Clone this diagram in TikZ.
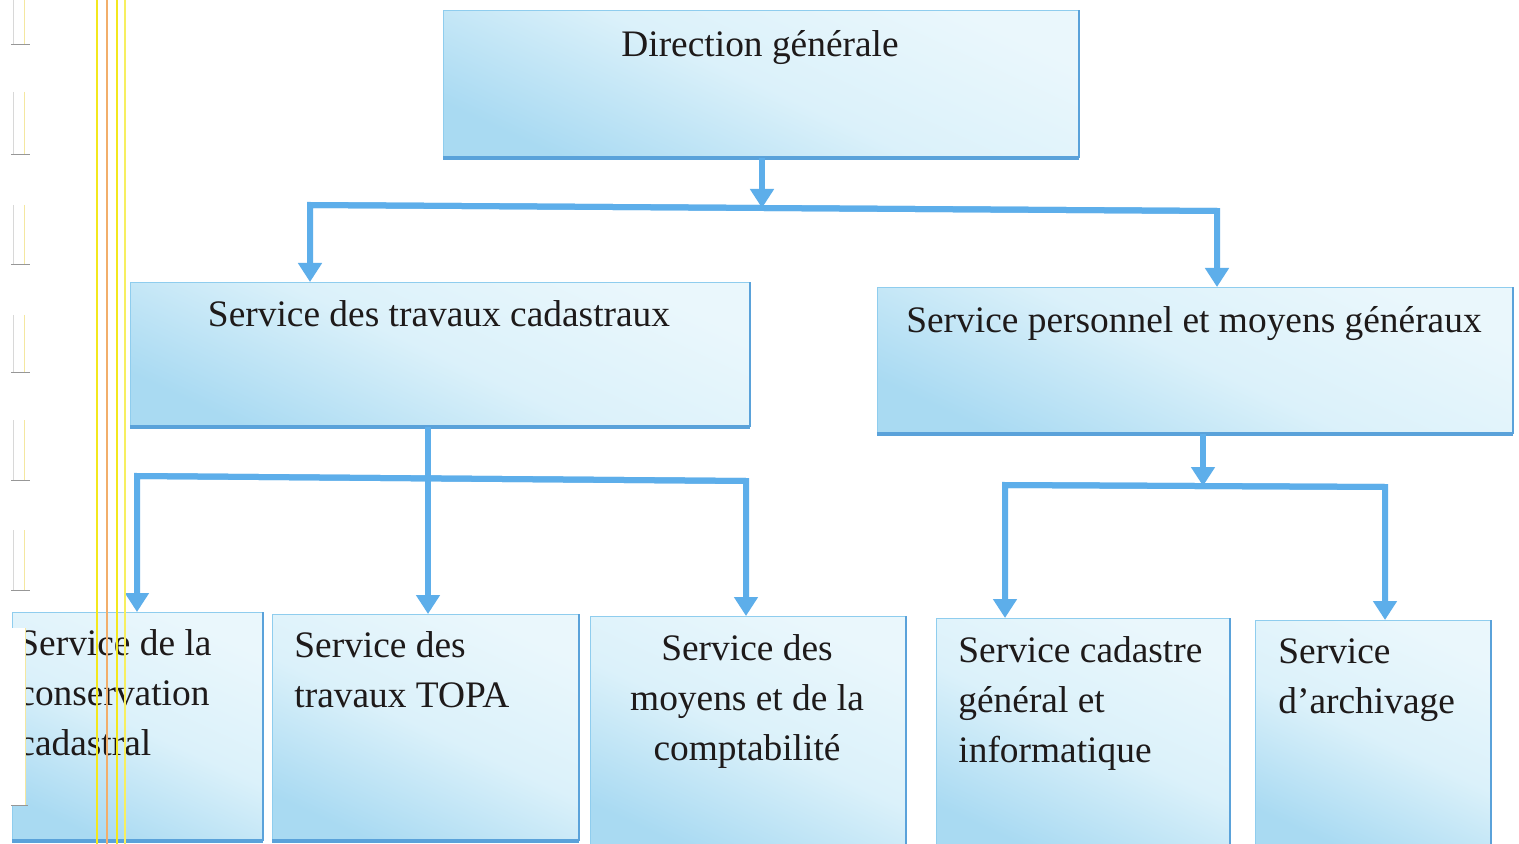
\documentclass[tikz,border=0pt]{standalone}
\usepackage{fontspec}
\setmainfont{Liberation Serif}
\usetikzlibrary{arrows.meta}

\definecolor{rimblue}{HTML}{5AA2DA}
\definecolor{edgeblue}{HTML}{8FCDEE}
\definecolor{linkblue}{HTML}{5DAEEA}
\definecolor{shadeA}{HTML}{A9DAF2}
\definecolor{shadeB}{HTML}{DBF1FA}
\definecolor{shadeC}{HTML}{EAF7FC}
\definecolor{inkc}{HTML}{1E1A1A}
\definecolor{guideY}{HTML}{F4E81C}
\definecolor{guideO}{HTML}{F2AE6A}
\definecolor{markG}{HTML}{D8D8D8}
\definecolor{markY}{HTML}{F4E7A0}

\tikzset{
  orgbox/.style={draw=edgeblue, line width=0.6pt, inner sep=0pt, anchor=north west,
    bottom color=shadeA, top color=shadeC, middle color=shadeB, shading angle=-25},
  rimb/.style={draw=rimblue, line width=1.8pt},
  rimr/.style={draw=rimblue, line width=1pt},
  link/.style={draw=linkblue, line width=3pt},
  conn/.style={link, -{Triangle[width=11.5pt,length=9.5pt]}},
  lbl/.style={font=\fontsize{18.7}{25}\selectfont, text=inkc, inner sep=0pt},
  guide/.style={line width=1pt},
  pagemark/.style={line width=0.5pt},
}

\begin{document}
\begin{tikzpicture}[x=0.5pt, y=-0.5pt]
\useasboundingbox (0,0) rectangle (1519,844);
\clip (0,0) rectangle (1519,844);
\fill[white] (0,0) rectangle (1519,844);

% boxes
\node[orgbox, minimum width=317.5pt, minimum height=73.5pt] (b0) at (443,10) {};
\node[orgbox, minimum width=309.5pt, minimum height=72pt]   (b1) at (130,282) {};
\node[orgbox, minimum width=317.5pt, minimum height=73pt]   (b2) at (877,287) {};
\node[orgbox, minimum width=125pt,   minimum height=114pt]  (b3) at (12,612) {};
\node[orgbox, minimum width=153pt,   minimum height=113pt]  (b4) at (272,614) {};
\node[orgbox, minimum width=157.5pt, minimum height=117pt]  (b5) at (590,616) {};
\node[orgbox, minimum width=146.5pt, minimum height=116pt]  (b6) at (936,618) {};
\node[orgbox, minimum width=117.5pt, minimum height=115pt]  (b7) at (1255,620) {};

\foreach \b in {b0,b1,b2,b3,b4,b5,b6,b7}{
  \draw[rimb] (\b.south west) -- (\b.south east);
  \draw[rimr] (\b.south east) -- (\b.north east);
}

% junctions
\coordinate (ja) at (310,205);
\coordinate (jb) at (1217,211);
\coordinate (j0) at (762,208);
\coordinate (kb) at (137,476);
\coordinate (ke) at (746,481);
\coordinate (k0) at (428,478);
\coordinate (mb) at (1005,485);
\coordinate (me) at (1385,487);
\coordinate (m0) at (1203,486);

% connectors
\draw[conn] (b0.south -| j0) -- (j0);
\draw[conn] (jb) -- (ja) -- (ja |- b1.north);
\draw[conn] (ja) -- (jb) -- (jb |- b2.north);

\draw[conn] (b1.south -| k0) -- (b4.north -| k0);
\draw[conn] (ke) -- (kb) -- (kb |- b3.north);
\draw[conn] (kb) -- (ke) -- (ke |- b5.north);

\draw[conn] (b2.south -| m0) -- (m0);
\draw[conn] (me) -- (mb) -- (mb |- b6.north);
\draw[conn] (mb) -- (me) -- (me |- b7.north);

% labels
\node[lbl, anchor=base] (t0) at (760,57) {Direction générale};
\node[lbl, anchor=base] (t1) at (439,327) {Service des travaux cadastraux};
\node[lbl, anchor=base] (t2) at (1194,333) {Service personnel et moyens généraux};
\node[lbl, anchor=north west, align=left] (t3) at (18,629) {Service de la\\conservation\\cadastral};
\node[lbl, anchor=north west, align=left] (t4) at (294,631) {Service des\\travaux TOPA};
\node[lbl, anchor=north, align=center] (t5) at (747,634) {Service des\\moyens et de la\\comptabilité};
\node[lbl, anchor=north west, align=left] (t6) at (958,636) {Service cadastre\\général et\\informatique};
\node[lbl, anchor=north west, align=left] (t7) at (1278,638) {Service\\d’archivage};

% binding marks along the left margin
\foreach \ya/\yb in {0/45, 92/155, 205/265, 315/372, 420/480, 530/590}{
  \draw[pagemark, markG] (13,\ya) -- (13,\yb);
  \draw[pagemark, markY] (24,\ya) -- (24,\yb);
  \draw[pagemark, markG!70!black] (11,\yb) -- (30,\yb);
}
\fill[white] (12,628) rectangle (25,805);
\draw[pagemark, markY] (25,628) -- (25,805);
\draw[pagemark, markG!70!black] (11,805) -- (28,805);

% yellow ruling lines
\draw[guide, guideY] (97,0) -- (97,844);
\draw[guide, guideO] (107,0) -- (107,844);
\draw[guide, guideY] (117,0) -- (117,844);
\draw[guide, guideY!70!white] (125,0) -- (125,844);
\end{tikzpicture}
\end{document}
